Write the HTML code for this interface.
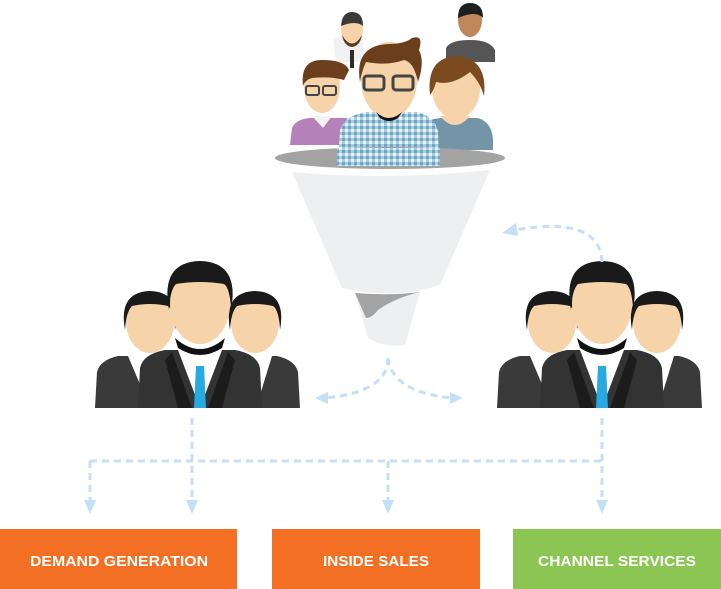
<!DOCTYPE html>
<html><head><meta charset="utf-8"><style>
html,body{margin:0;padding:0;background:#fff}
svg{display:block}
text{font-family:"Liberation Sans",Arial,sans-serif;font-weight:bold;fill:#fff;font-size:15px}
</style></head><body>
<svg width="721" height="589" viewBox="0 0 721 589" xmlns="http://www.w3.org/2000/svg">
<defs>
<pattern id="plaid" width="6" height="6" patternUnits="userSpaceOnUse">
<rect width="6" height="6" fill="#a9cde0"/><rect width="3" height="3" fill="#6aa6c8"/><rect x="3" y="3" width="3" height="3" fill="#e8f2f8"/>
</pattern>
<g id="biz">
 <!-- side left -->
 <path d="M95 408 L97 372 Q100 360 118 356 L180 356 L190 408 Z" fill="#3a3a3a"/>
 <path d="M128 356 L150 408 L170 356 Z" fill="#fff"/>
 <ellipse cx="150" cy="322" rx="24" ry="31" fill="#f6d3a8"/>
 <path d="M125 330 Q118 292 150 291 Q182 292 175 330 Q174 310 168 306 Q150 302 132 306 Q126 312 125 330Z" fill="#1a1a1a"/>
 <!-- side right -->
 <path d="M300 408 L298 372 Q295 360 277 356 L215 356 L205 408 Z" fill="#3a3a3a"/>
 <path d="M236 356 L256 408 L272 356 Z" fill="#fff"/>
 <ellipse cx="255" cy="322" rx="24" ry="31" fill="#f6d3a8"/>
 <path d="M230 330 Q223 292 255 291 Q287 292 280 330 Q279 310 273 306 Q255 302 237 306 Q231 312 230 330Z" fill="#1a1a1a"/>
 <!-- center -->
 <path d="M138 408 L140 368 Q143 354 165 350 L235 350 Q257 354 260 368 L262 408 Z" fill="#333"/>
 <path d="M178 350 L200 408 L222 350 Z" fill="#fff"/>
 <path d="M172 352 L192 408 L178 408 L165 360Z" fill="#1c1c1c"/>
 <path d="M228 352 L208 408 L222 408 L235 360Z" fill="#1c1c1c"/>
 <path d="M196 366 L204 366 L206 408 L194 408 Z" fill="#27a9e1"/>
 <ellipse cx="200" cy="304" rx="30" ry="40" fill="#f6d3a8"/>
 <path d="M175 338 Q200 360 225 338 L222 348 Q200 362 178 348Z" fill="#111"/>
 <path d="M169 310 Q160 262 200 261 Q240 262 231 310 Q230 288 224 284 Q200 280 176 284 Q170 290 169 310Z" fill="#1a1a1a"/>
</g>
</defs>

<!-- top people -->
<path d="M333 40 Q340 35 362 36 L366 62 L336 62 Z" fill="#f1f1f1"/>
<ellipse cx="352" cy="30" rx="11" ry="15" fill="#f6d3a8"/>
<path d="M341 26 Q342 12 352 12 Q363 12 363 26 Q356 20 341 26Z" fill="#3a3a3a"/>
<path d="M342 35 Q352 52 362 35 Q360 46 352 47 Q344 46 342 35Z" fill="#5a3a1f"/>
<path d="M350 50 L354 50 L354 68 L350 68Z" fill="#2b2b2b"/>
<path d="M446 48 Q450 40 470 40 Q490 40 495 50 L495 62 L446 62 Z" fill="#555"/>
<ellipse cx="470" cy="20" rx="12" ry="17" fill="#c0885a"/>
<path d="M458 18 Q458 3 470 3 Q483 3 483 18 Q476 10 458 18Z" fill="#1e1e1e"/>
<path d="M290 145 L292 128 Q296 119 310 118 L346 118 Q352 120 354 128 L356 145 Z" fill="#b482b8"/>
<path d="M312 116 L332 116 L323 128Z" fill="#f3f3f3"/>
<ellipse cx="322" cy="87" rx="18" ry="26" fill="#f6d3a8"/>
<path d="M303 86 Q300 60 322 60 Q345 60 349 70 L344 80 Q330 76 312 78 Q305 80 303 86Z" fill="#6b3f1b"/>
<rect x="306" y="86" width="13" height="9" rx="2" fill="none" stroke="#444" stroke-width="2"/>
<rect x="323" y="86" width="13" height="9" rx="2" fill="none" stroke="#444" stroke-width="2"/>
<path d="M420 150 L420 130 Q424 118 445 118 L478 118 Q492 122 493 140 L493 150Z" fill="#7495a8"/>
<path d="M440 116 Q455 134 470 116Z" fill="#f6d3a8"/>
<ellipse cx="456" cy="88" rx="24" ry="31" fill="#f6d3a8"/>
<path d="M430 95 Q426 58 456 56 Q488 58 484 96 Q480 82 470 72 Q452 86 436 82 Q434 90 430 95Z" fill="#7b4a1f"/>
<path d="M338 165 L340 130 Q344 116 366 112 L418 112 Q436 118 438 132 L440 165Z" fill="url(#plaid)"/>
<ellipse cx="389" cy="80" rx="28" ry="38" fill="#f6d3a8"/>
<path d="M376 112 Q389 124 402 112 L398 118 Q389 124 380 118Z" fill="#111"/>
<path d="M360 82 Q354 46 388 44 Q405 44 412 38 Q424 34 419 50 Q425 62 418 82 Q414 62 404 60 Q388 66 366 62 Q362 70 360 82Z" fill="#6b3f1b"/>
<rect x="364" y="76" width="20" height="14" rx="3" fill="none" stroke="#444" stroke-width="3"/>
<rect x="393" y="76" width="20" height="14" rx="3" fill="none" stroke="#444" stroke-width="3"/>

<!-- funnel -->
<ellipse cx="390" cy="158" rx="115" ry="11" fill="#a3a3a3"/>
<path d="M337 148 L440 148 L440 166 L337 166Z" fill="url(#plaid)"/>
<path d="M292 172 Q390 181 490 170 L440 285 Q395 300 342 288 Z" fill="#eeeff1"/>
<path d="M355 293 Q390 296 420 292 L405 345 Q385 348 368 338 Z" fill="#eeeff1"/>
<path d="M355 293 Q390 296 420 292 Q395 298 378 310 Q372 318 366 318 Z" fill="#a3a3a3"/>

<use href="#biz"/>
<use href="#biz" transform="translate(402,0)"/>

<g fill="none" stroke="#c5e0f5" stroke-width="3" stroke-dasharray="7,5">
 <path d="M90 461 L602 461"/>
 <path d="M90 461 L90 500"/>
 <path d="M192 418 L192 500"/>
 <path d="M388 461 L388 500"/>
 <path d="M602 418 L602 500"/>
 <path d="M388 358 Q388 392 325 398"/>
 <path d="M388 358 Q392 392 452 398"/>
 <path d="M602 262 Q600 215 515 230"/>
</g>
<g fill="#c5e0f5">
 <path d="M84 500 L96 500 L90 514Z"/>
 <path d="M186 500 L198 500 L192 514Z"/>
 <path d="M382 500 L394 500 L388 514Z"/>
 <path d="M596 500 L608 500 L602 514Z"/>
 <path d="M328 392 L328 404 L315 398Z"/>
 <path d="M450 392 L450 404 L463 398Z"/>
 <path d="M516 223 L518 236 L502 233Z"/>
</g>

<rect x="0" y="529" width="237" height="60" fill="#f36f23"/>
<rect x="272" y="529" width="208" height="60" fill="#f36f23"/>
<rect x="513" y="529" width="208" height="60" fill="#8bc653"/>
<text x="119" y="566" text-anchor="middle" textLength="178" lengthAdjust="spacingAndGlyphs">DEMAND GENERATION</text>
<text x="376" y="566" text-anchor="middle" textLength="106" lengthAdjust="spacingAndGlyphs">INSIDE SALES</text>
<text x="617" y="566" text-anchor="middle" textLength="158" lengthAdjust="spacingAndGlyphs">CHANNEL SERVICES</text>
</svg>
</body></html>
